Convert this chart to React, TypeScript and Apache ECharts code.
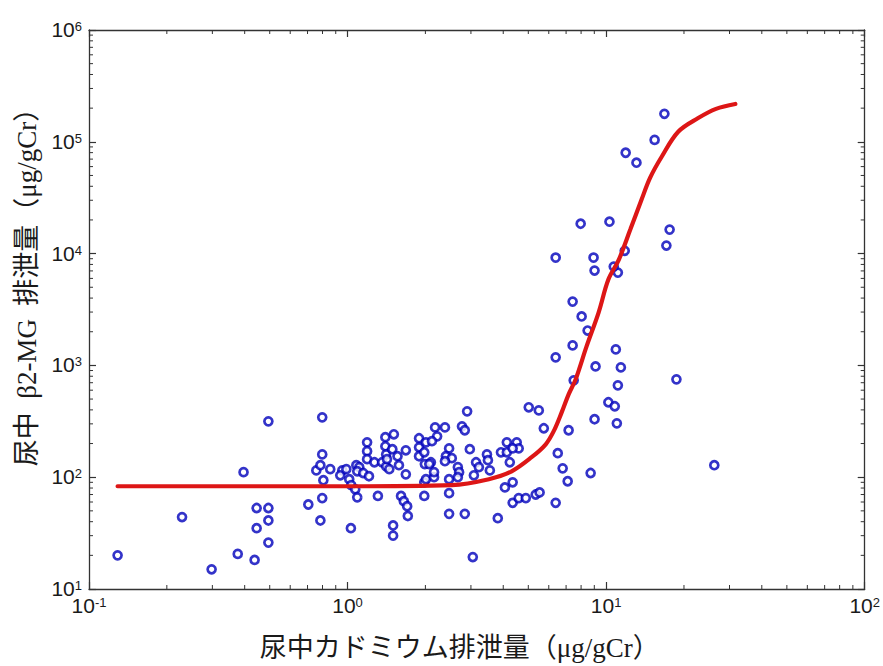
import React, { useEffect, useRef } from 'react';
import * as echarts from 'echarts';

// Urinary cadmium excretion (µg/gCr) of each subject
const cdExcretion = [
  0.129, 0.229, 0.298, 0.396, 0.376, 0.437, 0.445, 0.445, 0.494, 0.494, 0.494, 0.494,
  0.798, 0.798, 0.757, 0.785, 0.857, 0.806, 0.798, 0.705, 0.785, 1.03, 0.954, 0.937,
  0.989, 1.015, 1.033, 1.081, 1.11, 1.09, 1.071, 1.09, 1.19, 1.19, 1.19, 1.15,
  1.21, 1.27, 1.31, 1.40, 1.51, 1.40, 1.41, 1.49, 1.56, 1.68, 1.36, 1.41,
  1.45, 1.42, 1.58, 1.68, 1.61, 1.65, 1.70, 1.71, 1.50, 1.50, 1.89, 1.89,
  1.89, 2.01, 1.98, 1.99, 1.98, 1.98, 2.18, 2.38, 2.22, 2.12, 2.10, 2.01,
  2.16, 2.16, 2.47, 2.40, 2.53, 2.38, 2.47, 2.47, 2.47, 2.67, 2.70, 2.67,
  2.77, 2.84, 2.90, 2.97, 3.08, 3.14, 3.22, 2.84, 3.05, 3.46, 3.49, 3.55,
  3.81, 4.06, 3.92, 4.13, 4.13, 4.24, 4.51, 4.59, 4.35, 4.35, 4.35, 4.59,
  4.89, 5.34, 5.53, 5.02, 5.49, 5.74, 6.38, 6.50, 6.79, 7.10, 7.16, 8.71,
  9.02, 10.2, 10.8, 11.0, 9.02, 11.1, 7.42, 8.04, 8.48, 7.42, 6.38, 10.9,
  9.10, 11.4, 7.49, 11.1, 18.7, 16.8, 15.4, 11.9, 13.1, 7.97, 10.3, 17.6,
  17.1, 6.38, 8.94, 11.8, 10.7, 26.2, 2.07,
];

// Urinary β2-MG excretion (µg/gCr) of each subject
const b2mgExcretion = [
  20, 44, 15, 111, 20.6, 18.2, 35, 53, 53, 41, 26, 316,
  343, 160, 115, 128, 118, 94, 65, 57, 41, 35, 115, 104,
  118, 96, 85, 128, 123, 113, 78, 66, 205, 171, 145, 109,
  102, 136, 68, 228, 242, 189, 160, 178, 154, 174, 136, 125,
  118, 145, 128, 106, 68, 61, 55, 45, 37, 30, 223, 185,
  154, 205, 167, 131, 90, 68, 279, 279, 232, 210, 136, 96,
  100, 111, 181, 154, 148, 139, 96, 72, 47, 123, 111, 100,
  285, 263, 388, 178, 104, 136, 123, 47, 19.3, 160, 142, 115,
  43, 81, 167, 205, 167, 136, 205, 181, 181, 90, 59, 65,
  65, 70, 73, 422, 396, 274, 59, 164, 120, 92, 263, 109,
  330, 468, 431, 303, 7050, 6760, 3720, 2740, 2050, 1510, 1180, 1390,
  979, 960, 735, 663, 750, 178000, 104000, 79800, 65000, 18500, 19300, 16400,
  11800, 9200, 9200, 10600, 7650, 128, 131,
];

// Fitted dose-response curve
const fitCd = [
  0.129, 0.418, 1.015, 2.53, 3.52, 4.31, 5.15, 5.84, 6.27, 6.73, 7.16, 7.62,
  8.40, 9.35, 10.2, 11.2, 12.4, 13.7, 14.8, 16.4, 19.0, 22.7, 26.6, 31.6,
];
const fitB2mg = [
  83, 83, 83, 85, 96, 113, 151, 197, 258, 380, 551, 750,
  1480, 2970, 5860, 8830, 16400, 30300, 47800, 73500, 123000, 163000, 197000, 218000,
];

// Minor tick positions of the log axes
const xMinorTicks = [
  0.2, 0.3, 0.4, 0.5, 0.6, 0.7, 0.8, 0.9,
  2, 3, 4, 5, 6, 7, 8, 9,
  20, 30, 40, 50, 60, 70, 80, 90,
];
const yMinorTicks = [
  20, 30, 40, 50, 60, 70, 80, 90,
  200, 300, 400, 500, 600, 700, 800, 900,
  2000, 3000, 4000, 5000, 6000, 7000, 8000, 9000,
  20000, 30000, 40000, 50000, 60000, 70000, 80000, 90000,
  200000, 300000, 400000, 500000, 600000, 700000, 800000, 900000,
];

const xName = '尿中カドミウム排泄量（μg/gCr）';
const yName = '尿中\u2002β2-MG\u2002排泄量（μg/gCr）';

const X_MIN = 0.1;
const X_MAX = 100;
const Y_MIN = 10;
const Y_MAX = 1000000;

const AXIS_COLOR = '#333';
const TEXT_COLOR = '#1a1a1a';
const NAME_FONT = "'Liberation Serif', 'Noto Sans CJK JP', serif";
const TICK_FONT = "'Liberation Sans', Arial, sans-serif";

export default function App() {
  const ref = useRef<HTMLDivElement>(null);

  useEffect(() => {
    if (!ref.current) return;
    const chart = echarts.init(ref.current, null, { renderer: 'svg' });

    const expFormatter = (v: number) => {
      const e = Math.round(Math.log10(v));
      return `{b|10}{s|${e}}`;
    };
    const richLabel = {
      b: {
        fontSize: 21,
        fontFamily: TICK_FONT,
        color: TEXT_COLOR,
        lineHeight: 20,
        padding: [6, 0, 0, 0],
        verticalAlign: 'bottom',
      },
      s: {
        fontSize: 13,
        fontFamily: TICK_FONT,
        color: TEXT_COLOR,
        lineHeight: 13,
        verticalAlign: 'top',
      },
    };

    const baseAxis = {
      type: 'log' as const,
      logBase: 10,
      axisLine: { show: true, onZero: false, lineStyle: { color: AXIS_COLOR, width: 1.3 } },
      axisTick: { show: true, inside: true, length: 7, lineStyle: { color: AXIS_COLOR, width: 1.2 } },
      splitLine: { show: false },
      minorTick: { show: false },
    };

    const tickData = [
      ...xMinorTicks.map((v) => [v, Y_MIN, 0]),
      ...yMinorTicks.map((v) => [X_MIN, v, 1]),
    ];

    const option = {
      animation: false,
      backgroundColor: '#ffffff',
      grid: { left: 89, right: 16, top: 30, bottom: 76, containLabel: false },
      xAxis: [
        {
          ...baseAxis,
          position: 'bottom',
          min: X_MIN,
          max: X_MAX,
          name: xName,
          nameLocation: 'middle',
          nameGap: 45,
          nameTextStyle: {
            fontSize: 27,
            fontFamily: NAME_FONT,
            color: TEXT_COLOR,
            padding: [0, 34, 0, 0],
          },
          axisLabel: { margin: 7, formatter: expFormatter, rich: richLabel },
        },
        {
          ...baseAxis,
          position: 'top',
          min: X_MIN,
          max: X_MAX,
          axisLabel: { show: false },
        },
      ],
      yAxis: [
        {
          ...baseAxis,
          position: 'left',
          min: Y_MIN,
          max: Y_MAX,
          name: yName,
          nameLocation: 'middle',
          nameGap: 49,
          nameTextStyle: {
            fontSize: 27,
            fontFamily: NAME_FONT,
            color: TEXT_COLOR,
            padding: [0, 0, 0, 58],
          },
          axisLabel: { margin: 7, formatter: expFormatter, rich: richLabel },
        },
        {
          ...baseAxis,
          position: 'right',
          min: Y_MIN,
          max: Y_MAX,
          axisLabel: { show: false },
        },
      ],
      series: [
        {
          type: 'custom',
          name: 'minorTicks',
          xAxisIndex: 0,
          yAxisIndex: 0,
          silent: true,
          clip: false,
          z: 1,
          data: tickData,
          renderItem: (params: any, api: any) => {
            const cs = params.coordSys;
            const kind = api.value(2);
            const L = 4;
            const style = { stroke: AXIS_COLOR, lineWidth: 1 };
            if (kind === 0) {
              const p = api.coord([api.value(0), Y_MIN]);
              const x = p[0];
              const bottom = cs.y + cs.height;
              return {
                type: 'group',
                children: [
                  { type: 'line', shape: { x1: x, y1: bottom, x2: x, y2: bottom - L }, style },
                  { type: 'line', shape: { x1: x, y1: cs.y, x2: x, y2: cs.y + L }, style },
                ],
              };
            }
            const p = api.coord([X_MIN, api.value(1)]);
            const y = p[1];
            const right = cs.x + cs.width;
            return {
              type: 'group',
              children: [
                { type: 'line', shape: { x1: cs.x, y1: y, x2: cs.x + L, y2: y }, style },
                { type: 'line', shape: { x1: right, y1: y, x2: right - L, y2: y }, style },
              ],
            };
          },
        },
        {
          type: 'scatter',
          name: 'subjects',
          xAxisIndex: 0,
          yAxisIndex: 0,
          symbol: 'circle',
          symbolSize: 8,
          z: 3,
          itemStyle: { color: '#ffffff', borderColor: '#0000bb', borderWidth: 2.7 },
          data: cdExcretion.map((x, i) => [x, b2mgExcretion[i]]),
        },
        {
          type: 'line',
          name: 'fit',
          xAxisIndex: 0,
          yAxisIndex: 0,
          showSymbol: false,
          symbol: 'none',
          smooth: 0.35,
          z: 4,
          lineStyle: { color: '#dd1616', width: 4.2, cap: 'round' },
          data: fitCd.map((x, i) => [x, fitB2mg[i]]),
        },
      ],
    };

    chart.setOption(option as any);
    return () => chart.dispose();
  }, []);

  return (
    <div
      ref={ref}
      style={{ position: 'fixed', left: 0, top: 0, width: 883, height: 666, background: '#fff' }}
    />
  );
}
